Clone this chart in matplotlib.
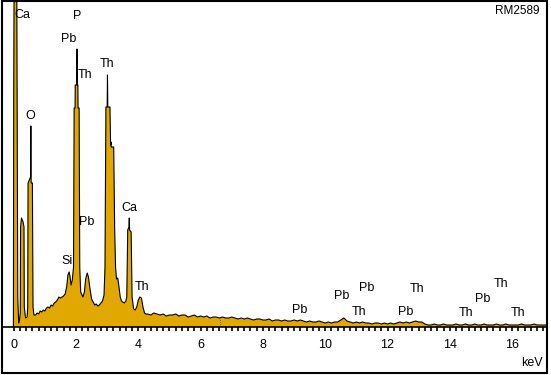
import numpy as np
import matplotlib
matplotlib.use("Agg")
import matplotlib.pyplot as plt
from matplotlib.patches import Rectangle

plt.rcParams['font.family'] = ['Liberation Sans', 'DejaVu Sans']

# EDS spectrum, low energy part (keV, counts)
peak_kev = [-0.05, -0.01, 0.00, 0.02, 0.09, 0.11, 0.13, 0.16, 0.19, 0.21,
            0.22, 0.25, 0.30, 0.33, 0.34, 0.38, 0.43, 0.45, 0.46, 0.54,
            0.55, 0.56, 0.60, 0.62, 0.65, 0.70, 0.75, 0.80, 0.85, 0.90,
            0.95, 1.00, 1.05, 1.10, 1.15, 1.20, 1.25, 1.30, 1.35, 1.40,
            1.45, 1.50, 1.55, 1.60, 1.65, 1.70, 1.74, 1.78, 1.81, 1.84,
            1.88, 1.92, 1.94, 1.97, 1.975, 2.02, 2.03, 2.04, 2.06, 2.065,
            2.10, 2.12, 2.15, 2.18, 2.22, 2.27, 2.31, 2.36, 2.40, 2.45,
            2.50, 2.55, 2.60, 2.65, 2.70, 2.75, 2.80, 2.85, 2.90, 2.93,
            2.96, 3.00, 3.01, 3.02, 3.09, 3.11, 3.12, 3.13, 3.21, 3.24,
            3.27, 3.30, 3.34, 3.38, 3.42, 3.46, 3.50, 3.55, 3.60, 3.63,
            3.66, 3.70, 3.71, 3.72, 3.77, 3.80, 3.85, 3.90, 3.95, 4.00,
            4.05, 4.10, 4.15, 4.20, 4.25]
peak_counts = [0, 0, 230, 420, 420, 235, 30, 4, 8, 15,
               100, 109, 105, 100, 20, 9, 10, 20, 144, 150,
               201, 144, 144, 20, 12, 12, 14, 13, 16, 15,
               17, 16, 19, 20, 19, 22, 21, 24, 25, 27,
               30, 29, 30, 31, 33, 40, 52, 55, 50, 42,
               47, 60, 219, 219, 242, 242, 278, 242, 242, 219,
               219, 60, 35, 33, 30, 35, 48, 54, 50, 38,
               28, 25, 22, 23, 21, 22, 24, 26, 32, 60,
               220, 220, 252, 220, 220, 182, 185, 180, 180, 100,
               60, 48, 49, 40, 30, 26, 25, 24, 26, 30,
               97, 100, 109, 97, 95, 30, 18, 17, 20, 27,
               30, 29, 20, 14, 13]

# high energy background, one channel every 0.1 keV from 4.3 keV
tail_counts = [13, 12, 14, 13, 12, 13, 11, 12,
               12, 13, 11, 12, 12, 10, 11, 12, 10, 11,
               10, 11, 9, 10, 10, 9, 10, 9, 9, 10,
               9, 8, 9, 8, 9, 8, 7, 8, 8, 7,
               7, 8, 6, 7, 7, 6, 7, 6, 6, 7,
               6, 7, 6, 5, 6, 5, 5, 6, 5, 4,
               5, 4, 5, 5, 7, 9, 6, 5, 4, 5,
               4, 5, 4, 4, 3, 4, 4, 3, 4, 3,
               4, 3, 4, 5, 4, 5, 4, 5, 6, 5,
               5, 3, 2, 2, 3, 2, 2, 3, 2, 2,
               2, 3, 2, 2, 3, 2, 2, 3, 2, 2,
               3, 2, 2, 2, 3, 2, 2, 3, 2, 2,
               2, 2, 3, 2, 2, 2, 3, 2, 2, 2,
               2, 2, 2]
tail_kev = np.arange(43, 43 + len(tail_counts)) / 10.0

# element labels (text, keV, counts)
labels = [("Ca", 0.27, 312), ("P", 2.03, 311), ("Pb", 1.78, 288),
          ("Th", 2.29, 252), ("Th", 2.99, 263), ("O", 0.52, 211),
          ("Si", 1.71, 66), ("Pb", 2.35, 105), ("Ca", 3.70, 119),
          ("Th", 4.12, 40), ("Pb", 9.19, 17), ("Pb", 10.54, 31),
          ("Pb", 11.34, 39), ("Th", 11.08, 15), ("Th", 12.95, 38),
          ("Pb", 12.59, 15), ("Th", 14.52, 14), ("Pb", 15.07, 28),
          ("Th", 15.64, 43), ("Th", 16.19, 14)]
cursor_kev = 6.62
sample_name = "RM2589"

energy = np.concatenate([peak_kev, tail_kev])
counts = np.concatenate([peak_counts, tail_counts])

fig = plt.figure(figsize=(5.51, 3.75), dpi=100)
ax = fig.add_axes([2/551, 1 - 327/375, 545/551, 326/375])

ax.fill_between(energy, 0, counts, color='#E0A800', lw=0)
ax.plot(energy, counts, color='black', lw=0.8)
cur = np.interp(cursor_kev, energy, counts)
ax.vlines(cursor_kev, 0, cur, color='#333333', lw=0.6, linestyles=':')

for txt, x, y in labels:
    ax.text(x, y, txt, ha='center', va='center', fontsize=9)

ax.text(0.987, 0.969, sample_name, transform=ax.transAxes,
        ha='right', va='center', fontsize=8.5)

ax.set_xlim(-0.376, 17.12)
ax.set_ylim(0, 326)
ax.set_xticks(np.arange(0, 17, 2))
ax.set_xticks(np.arange(0, 17.2, 0.2), minor=True)
ax.tick_params(axis='x', which='both', direction='out', length=3,
               width=1.2, labelsize=9, pad=6)
ax.set_yticks([])
for s in ['top', 'left', 'right']:
    ax.spines[s].set_visible(False)
ax.spines['bottom'].set_linewidth(1.2)

fig.text(532/551, 1 - 363/375, "keV", ha='center', va='center', fontsize=9)

# outer frame
fig.patches.append(Rectangle((2/551, 2/375), 545/551, 372/375, fill=False,
                             lw=1.5, ec='black', transform=fig.transFigure))

fig.savefig("out.png", dpi=100)
